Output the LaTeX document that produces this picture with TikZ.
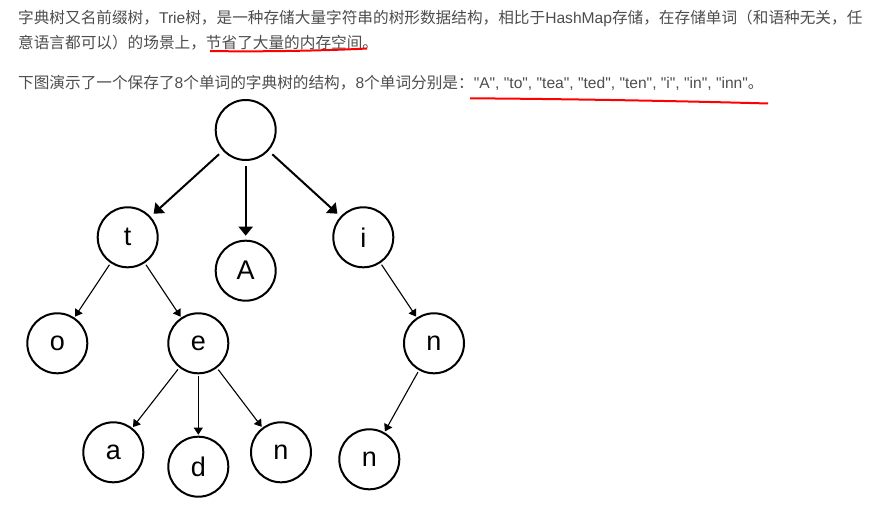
\documentclass[tikz,border=0pt]{standalone}
\usepackage{fontspec}
\newfontfamily\arial{Liberation Sans}
\newfontfamily\cjk{Noto Sans CJK SC}
\usepackage{tikz}
\tikzset{x=1pt,y=-1pt}
\usetikzlibrary{arrows.meta, calc}
\definecolor{txtgray}{HTML}{4D4D4D}
\definecolor{markred}{HTML}{FF0000}
\newcommand\zh[1]{{\cjk\fontsize{15.65}{16}\selectfont #1}}

\begin{document}
\begin{tikzpicture}[
    letter/.style={circle, draw, line width=2pt, minimum size=60pt, inner sep=0pt,
      font=\arial\fontsize{27}{27}\selectfont},
    bigedge/.style={line width=2pt, -{Triangle[length=9pt,width=14pt]},
      shorten <=5pt, shorten >=4pt},
    smalledge/.style={line width=1.1pt, -{Triangle[length=7pt,width=9pt]},
      shorten <=2pt, shorten >=1pt},
    para/.style={anchor=base west, inner sep=0pt, text=txtgray,
      font=\arial\fontsize{15.6}{16}\selectfont}]
\useasboundingbox (0,0) rectangle (876,516);
    % text above the tree
    \node[para] (line1) at (18,24)
      {\zh{字典树又名前缀树，}Trie\zh{树，是一种存储大量字符串的树形数据结构，相比于}HashMap\zh{存储，在存储单词（和语种无关，任}};
    \node[para] (line2) at (18,49)
      {\zh{意语言都可以）的场景上，节省了大量的内存空间。}};
    \node[para] (line3) at (18,89)
      {\zh{下图演示了一个保存了}8\zh{个单词的字典树的结构，}8\zh{个单词分别是：}"A", "to", "tea", "ted", "ten", "i", "in", "inn"\zh{。}};
    % red marks
    \draw[markred, line width=2pt] (210,51) .. controls (260,52) and (330,50.5) .. (367,48.5);
    \draw[markred, line width=2pt] (470,98.3) .. controls (570,99) and (680,101) .. (768,103.5);

    \node[letter] (root) at (245.7,130) {}; %root
    % level 1
    \node[letter] (t) at (127.7,237.3) {t};
    \node[letter] (A) at (245.7,270.7) {A};
    \node[letter] (i) at (363.3,237.3) {i};
    % level 2
    \node[letter] (o) at (57.3,343.3) {o};
    \node[letter] (e) at (198.3,343.3) {e};
    \node[letter] (in) at (434,343.3) {n};
    % level 3
    \node[letter] (ea) at (113.3,452.3) {a};
    \node[letter] (ed) at (198.3,466.7) {d};
    \node[letter] (en) at (281,452.3) {n};
    \node[letter] (inn) at (369.3,459.3) {n};

    \draw[bigedge] (root) -- (t);
    \draw[bigedge] (root) -- (A);
    \draw[bigedge] (root) -- (i);
    \draw[smalledge] (t) -- (o);
    \draw[smalledge] (t) -- (e);
    \draw[smalledge] (i) -- (in);
    \draw[smalledge] (e) -- (ea);
    \draw[smalledge] (e) -- (ed);
    \draw[smalledge] (e) -- (en);
    \draw[smalledge] (in) -- (inn);
\end{tikzpicture}
\end{document}
